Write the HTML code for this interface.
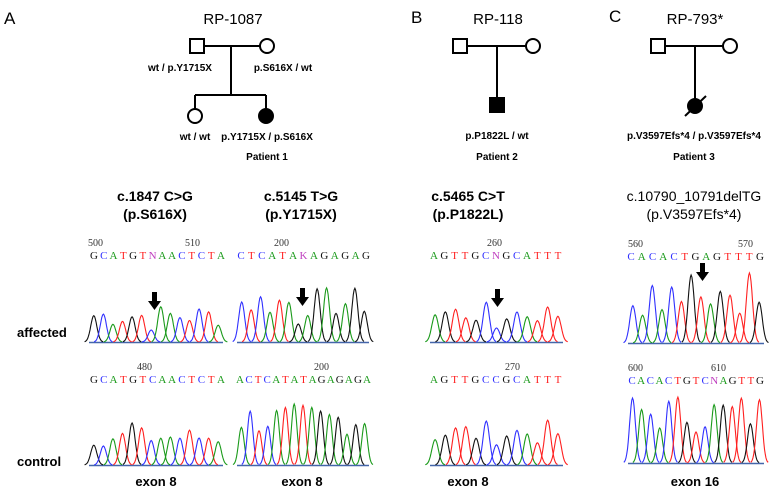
<!DOCTYPE html>
<html><head><meta charset="utf-8">
<style>
body{margin:0;background:#fff;}
svg{display:block;font-family:"Liberation Sans",sans-serif;}
.b{font-weight:bold;}
.seq{font-family:"Liberation Serif",serif;font-size:11px;}
.num{font-family:"Liberation Serif",serif;font-size:10px;fill:#333;}
</style></head><body>
<svg id="s" width="776" height="495" viewBox="0 0 776 495" xmlns="http://www.w3.org/2000/svg">
<g stroke="#000" stroke-width="2" fill="none">
<rect x="190" y="39" width="14" height="14" fill="#fff"/>
<circle cx="267" cy="46" r="7" fill="#fff"/>
<line x1="204" y1="46" x2="260" y2="46"/>
<line x1="231" y1="46" x2="231" y2="95"/>
<line x1="195" y1="95" x2="266" y2="95"/>
<line x1="195" y1="95" x2="195" y2="109"/>
<line x1="266" y1="95" x2="266" y2="109"/>
<circle cx="195" cy="116" r="7" fill="#fff"/>
<circle cx="266" cy="116" r="7" fill="#000"/>
<rect x="453" y="39" width="14" height="14" fill="#fff"/>
<circle cx="533" cy="46" r="7" fill="#fff"/>
<line x1="467" y1="46" x2="526" y2="46"/>
<line x1="497" y1="46" x2="497" y2="98"/>
<rect x="490" y="98" width="14" height="14" fill="#000"/>
<rect x="651" y="39" width="14" height="14" fill="#fff"/>
<circle cx="730" cy="46" r="7" fill="#fff"/>
<line x1="665" y1="46" x2="723" y2="46"/>
<line x1="695" y1="46" x2="695" y2="99"/>
<circle cx="695" cy="106" r="7" fill="#000"/>
<line x1="685" y1="116" x2="706" y2="96"/>
</g>
<g font-size="17">
<text x="4" y="24">A</text>
<text x="411" y="23">B</text>
<text x="609" y="22">C</text>
</g>
<g font-size="15" text-anchor="middle">
<text x="233" y="24">RP-1087</text>
<text x="498" y="24">RP-118</text>
<text x="695" y="24">RP-793*</text>
</g>
<g font-size="10" class="b" text-anchor="middle">
<text x="180" y="71">wt / p.Y1715X</text>
<text x="283" y="71">p.S616X / wt</text>
<text x="195" y="140">wt / wt</text>
<text x="267" y="140">p.Y1715X / p.S616X</text>
<text x="267" y="160">Patient 1</text>
<text x="497" y="139">p.P1822L / wt</text>
<text x="497" y="160">Patient 2</text>
<text x="694" y="139">p.V3597Efs*4 / p.V3597Efs*4</text>
<text x="694" y="160">Patient 3</text>
</g>
<g font-size="14" class="b" text-anchor="middle">
<text x="155" y="201">c.1847 C&gt;G</text>
<text x="155" y="219">(p.S616X)</text>
<text x="301" y="201">c.5145 T&gt;G</text>
<text x="301" y="219">(p.Y1715X)</text>
<text x="468" y="201">c.5465 C&gt;T</text>
<text x="468" y="219">(p.P1822L)</text>
</g>
<g font-size="14" text-anchor="middle">
<text x="694" y="201">c.10790_10791delTG</text>
<text x="694" y="219">(p.V3597Efs*4)</text>
</g>
<g font-size="13" class="b">
<text x="17" y="337">affected</text>
<text x="17" y="466">control</text>
</g>
<g font-size="13" class="b" text-anchor="middle">
<text x="156" y="486">exon 8</text>
<text x="302" y="486">exon 8</text>
<text x="468" y="486">exon 8</text>
<text x="695" y="486">exon 16</text>
</g>
<g class="num">
<text x="88" y="246">500</text><text x="185" y="246">510</text>
<text x="274" y="246">200</text>
<text x="487" y="246">260</text>
<text x="628" y="247">560</text><text x="738" y="247">570</text>
<text x="137" y="370">480</text>
<text x="314" y="370">200</text>
<text x="505" y="370">270</text>
<text x="628" y="371">600</text><text x="711" y="371">610</text>
</g>
<g id="seqs" class="seq"></g>
<g id="peaks" fill="none" stroke-width="1.1"></g>
<g fill="#000">
<path d="M152 292h5v9h4l-6.5 9l-6.5-9h4z"/>
<path d="M300 288h5v9h4l-6.5 9l-6.5-9h4z"/>
<path d="M495 289h5v9h4l-6.5 9l-6.5-9h4z"/>
<path d="M700 263h5v9h4l-6.5 9l-6.5-9h4z"/>
</g>
</svg>
<script>
var col={A:"#1a9a1a",C:"#3030ff",G:"#111",T:"#ff2020",N:"#c040c0",K:"#c040c0"};
var NS="http://www.w3.org/2000/svg";
function seq(str,x0,x1,y){
 var g=document.getElementById("seqs"),n=str.length,dx=(x1-x0)/(n-1);
 for(var i=0;i<n;i++){var t=document.createElementNS(NS,"text");t.setAttribute("x",x0+i*dx);t.setAttribute("y",y);t.setAttribute("text-anchor","middle");t.setAttribute("fill",col[str[i]]);t.textContent=str[i];g.appendChild(t);}
}
var seed=7;function rnd(){seed=(seed*9301+49297)%233280;return seed/233280;}
function peaks(str,x0,x1,base,hmin,hmax,extra){
 var g=document.getElementById("peaks"),n=str.length,dx=(x1-x0)/n;
 var bl=document.createElementNS(NS,"line");bl.setAttribute("x1",x0);bl.setAttribute("x2",x1);bl.setAttribute("y1",base+0.5);bl.setAttribute("y2",base+0.5);bl.setAttribute("stroke","#4466aa");bl.setAttribute("stroke-width","1.5");g.appendChild(bl);
 for(var i=0;i<n;i++){
  var c=str[i];var cc=(c=="N"||c=="K")?"T":c;
  var h=hmin+rnd()*(hmax-hmin);if(extra&&extra[i])h=extra[i];
  var cx=x0+dx*(i+0.5),w=dx*0.32,d="";
  for(var k=-3;k<=3;k+=0.25){var x=cx+k*w;var y=base-h*Math.exp(-k*k/2);d+=(d?"L":"M")+x.toFixed(1)+" "+y.toFixed(1);}
  var p=document.createElementNS(NS,"path");p.setAttribute("d",d);p.setAttribute("stroke",col[cc]);g.appendChild(p);
 }
}
seq("GCATGTNAACTCTA",94,221,259);
seq("CTCATAKAGAGAG",241,366,259);
seq("AGTTGCNGCATTT",434,558,259);
seq("CACACTGAGTTTG",631,760,260);
seq("GCATGTCAACTCTA",94,221,383);
seq("ACTCATATAGAGAGA",240,367,383);
seq("AGTTGCCGCATTT",434,558,383);
seq("CACACTGTCNAGTTG",632,760,384);
peaks("GCATGTCAACTCTA",89,223,342,15,38,{6:12});
peaks("CTCATAGAGAGAGG",237,369,342,25,55,{6:18});
peaks("AGTTGCCGCATTT",430,563,342,18,40,{6:14});
peaks("CACACTGTAGTTTG",628,764,343,25,60,{6:68,12:70});
peaks("GCATGTCAACTCTA",89,223,465,18,38,{4:42});
peaks("ACTCATATAGAGAGA",237,369,465,30,62);
peaks("AGTTGCCGCATTT",430,563,465,20,45);
peaks("CACACTGTCAGTTGT",628,764,463,30,70);
</script>
</body></html>
